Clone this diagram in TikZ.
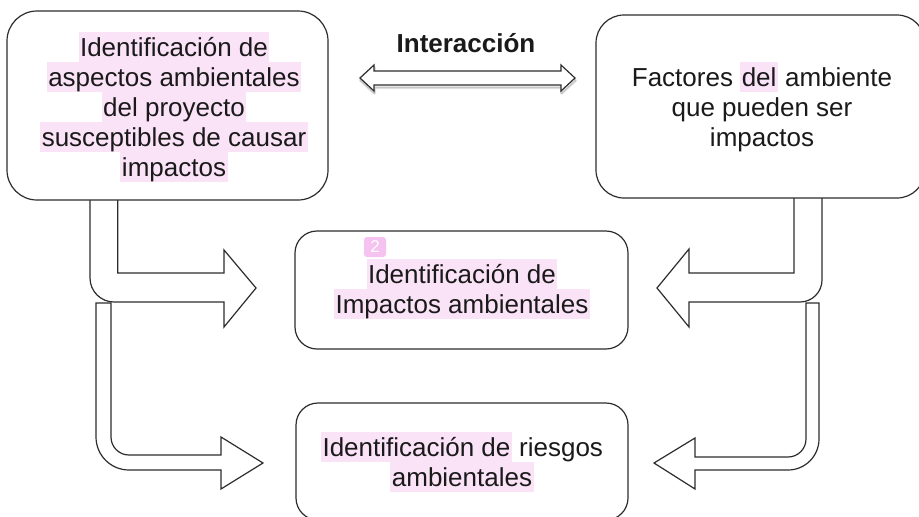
\documentclass[tikz,border=0pt]{standalone}
\usepackage{fontspec}
\setmainfont{Liberation Sans}
\usetikzlibrary{shapes.misc}
\definecolor{hl}{RGB}{250,226,247}
\definecolor{badge}{RGB}{246,195,240}
\definecolor{ink}{RGB}{26,26,26}
\definecolor{edge}{RGB}{45,45,45}
\newcommand{\sr}{\rule[-6pt]{0pt}{30pt}}
\newcommand{\hlt}[1]{{\setlength{\fboxsep}{0pt}\colorbox{hl}{\sr\hspace{1.5pt}#1\hspace{1.5pt}}}}
\tikzset{
  boxnode/.style={draw=edge, line width=1.2pt, fill=white, inner sep=0pt},
  txt/.style={inner sep=0pt, align=center, text=ink, font=\fontsize{26pt}{30pt}\selectfont},
  blk/.style={draw=edge, line width=1.2pt, fill=white, line join=miter},
}
\begin{document}
\begin{tikzpicture}[x=1pt,y=-1pt]
\clip (0,0) rectangle (919,517);
\fill[white] (0,0) rectangle (919,517);

% block arrows
\draw[blk] (117.7,195) -- (117.7,273) -- (224,273) -- (224,250) -- (256,288) -- (224,327) -- (224,302) -- (114,302) arc[start angle=90, end angle=180, radius=24] -- (90,195) -- cycle;
\draw[blk] (96,303) -- (111,303) -- (111,437) arc[start angle=180, end angle=90, radius=18] -- (221,455) -- (221,437) -- (263,463) -- (221,489) -- (221,470) -- (129,470) arc[start angle=90, end angle=180, radius=33] -- cycle;
\draw[blk] (794,195) -- (794,273) -- (689,273) -- (689,249) -- (657,288) -- (689,327) -- (689,302) -- (800,302) arc[start angle=90, end angle=0, radius=22] -- (822,195) -- cycle;
\draw[blk] (806,303) -- (819,303) -- (819,439) arc[start angle=0, end angle=90, radius=31] -- (695,470) -- (695,489) -- (654,463) -- (695,438) -- (695,457) -- (788,457) arc[start angle=90, end angle=0, radius=18] -- cycle;

% double arrow with soft shadow
\begin{scope}[shift={(0.5,2.5)}]
\draw[line width=3pt, draw=black, opacity=0.08, line join=round] (360,78) -- (374,65) -- (374,71) -- (561,71) -- (561,65) -- (575,78) -- (561,91) -- (561,85) -- (374,85) -- (374,91) -- cycle;
\draw[line width=1.5pt, draw=black, opacity=0.15, line join=round] (360,78) -- (374,65) -- (374,71) -- (561,71) -- (561,65) -- (575,78) -- (561,91) -- (561,85) -- (374,85) -- (374,91) -- cycle;
\end{scope}
\draw[blk] (360,78) -- (374,65) -- (374,71) -- (561,71) -- (561,65) -- (575,78) -- (561,91) -- (561,85) -- (374,85) -- (374,91) -- cycle;

% boxes
\node[boxnode, rounded corners=30pt, minimum width=321pt, minimum height=189pt] (b1) at (167.5,105.5) {};
\node[boxnode, rounded corners=28pt, minimum width=329pt, minimum height=183pt] (b2) at (760.5,106.5) {};
\node[boxnode, rounded corners=22pt, minimum width=333pt, minimum height=118pt] (b3) at (461.5,290) {};
\node[boxnode, rounded corners=22pt, minimum width=332pt, minimum height=117pt] (b4) at (462,461.5) {};

% texts
\node[txt] (t1) at (174,107) {\hlt{Identificación de}\\\hlt{aspectos ambientales}\\\hlt{del proyecto}\\\hlt{susceptibles de causar}\\\hlt{impactos}};
\node[txt] (t2) at (762,107) {\sr Factores \hlt{del} ambiente\\\sr que pueden ser\\\sr impactos};
\node[txt] (t3) at (462,289) {\hlt{Identificación de}\\\hlt{Impactos ambientales}};
\node[txt] (t4) at (462,462) {\hlt{Identificación de} riesgos\\\hlt{ambientales}};
\node[inner sep=0pt, anchor=base, text=ink, font=\fontsize{26pt}{30pt}\selectfont\bfseries] (lab) at (466,52) {Interacción};
\node[fill=badge, rounded corners=3pt, minimum width=22pt, minimum height=20pt, inner sep=0pt, text=white, font=\fontsize{17pt}{20pt}\selectfont] (bd) at (375,247) {2};
\end{tikzpicture}
\end{document}
